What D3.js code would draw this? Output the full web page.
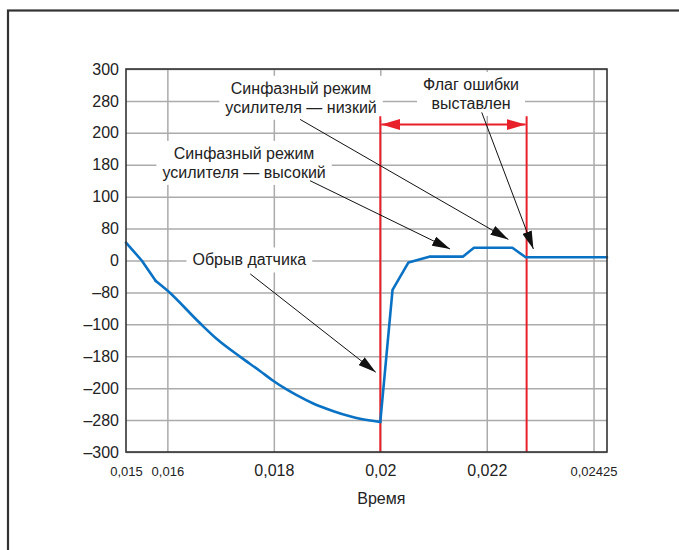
<!DOCTYPE html>
<html>
<head>
<meta charset="utf-8">
<script src="https://cdn.jsdelivr.net/npm/d3@7"></script>
<style>
body {margin:0; background:#fff;}
text {font-family: Arial, "Liberation Sans", sans-serif; fill:#222;}
</style>
</head>
<body>
<svg id="chart" width="679" height="550"></svg>
<script>
// данные кривой (время, сигнал)
var time = [0.015, 0.01538, 0.01572, 0.016, 0.01661, 0.01693, 0.01737, 0.01774, 0.01798, 0.01824,
	0.01843, 0.01874, 0.01912, 0.01943, 0.01962, 0.02, 0.02023, 0.02053, 0.02092, 0.02155,
	0.02176, 0.02254, 0.02282, 0.02453];
var signal = [28, 0, -32, -47, -98, -123, -151, -173, -188, -202,
	-211, -224, -236, -244, -248, -253, -46, -3, 6, 6,
	20, 20, 5, 5];
// участок плавной кривой (индексы)
var smoothFrom = 2, smoothTo = 15;

var yTicks = d3.range(-300, 301, 50);
var yTickLabels = ["\u2013300", "\u2013280", "\u2013200", "\u2013180", "\u2013100", "\u201380", "0",
	"80", "100", "180", "200", "280", "300"];
var xTicks = [0.015, 0.016, 0.018, 0.02, 0.022, 0.02425];
var xTickLabels = ["0,015", "0,016", "0,018", "0,02", "0,022", "0,02425"];
var xSmallLabels = ["0,015", "0,016", "0,02425"];
// ось времени нелинейная: точки излома
var xBreaks = [0.015, 0.016, 0.022, 0.02425, 0.02453];
var xBreakPos = [0, 0.086, 0.750, 0.972, 1];

var flagStart = 0.02, flagEnd = 0.02284, flagTop = 226, flagArrow = 213;

var notes = [
	{lines: ["Синфазный режим", "усилителя \u2014 низкий"], t: 0.018512, v: 270, from: [0.018494, 221], to: [0.022456, 33]},
	{lines: ["Синфазный режим", "усилителя \u2014 высокий"], t: 0.017441, v: 168, from: [0.018681, 125], to: [0.021311, 18]},
	{lines: ["Обрыв датчика"], t: 0.017539, v: 1, from: [0.017557, -21], to: [0.019915, -175]},
	{lines: ["Флаг ошибки", "выставлен"], t: 0.021705, v: 276, from: [0.021906, 232], to: [0.022983, 18]}
];

var svg = d3.select("#chart");
var margin = {left: 126, top: 69, right: 72, bottom: 98};
var W = 679 - margin.left - margin.right, H = 550 - margin.top - margin.bottom;

// рамка
svg.append("rect").attr("x", 8).attr("y", 10.5).attr("width", 720).attr("height", 600)
	.attr("fill", "none").attr("stroke", "#333").attr("stroke-width", 2.2);

var g = svg.append("g").attr("transform", "translate(" + margin.left + "," + margin.top + ")");

var x = d3.scaleLinear().domain(xBreaks).range(xBreakPos.map(function(p) {return p * W;}));
var y = d3.scaleLinear().domain([-300, 300]).range([H, 0]);

// сетка и подписи Y
var yAxis = g.append("g").call(d3.axisLeft(y).tickValues(yTicks).tickSize(-W).tickPadding(7)
	.tickFormat(function(d, i) {return yTickLabels[i];}));
yAxis.select(".domain").remove();
yAxis.selectAll("line").attr("stroke", "#ababab").attr("stroke-width", 1.5);
yAxis.selectAll("text").attr("font-size", 16).style("fill", "#222");

// сетка и подписи X
var xAxis = g.append("g").attr("transform", "translate(0," + H + ")")
	.call(d3.axisBottom(x).tickValues(xTicks).tickSize(-H)
	.tickFormat(function(d, i) {return xTickLabels[i];}));
xAxis.select(".domain").remove();
xAxis.selectAll("line").attr("stroke", function(d) {return d == 0.015 ? "none" : "#ababab";}).attr("stroke-width", 1.5);
xAxis.selectAll("text").attr("y", 24).attr("dy", 0).style("fill", "#222")
	.attr("font-size", function(d, i) {return xSmallLabels.indexOf(xTickLabels[i]) >= 0 ? 13 : 16;});

g.append("text").attr("x", x(0.0200) + 1).attr("y", H + 52).attr("text-anchor", "middle")
	.attr("font-size", 16).text("Время");

// маркеры стрелок
var defs = svg.append("defs");
defs.append("marker").attr("id", "blk").attr("viewBox", "0 0 18 10").attr("refX", 18).attr("refY", 5)
	.attr("markerWidth", 18).attr("markerHeight", 10).attr("markerUnits", "userSpaceOnUse").attr("orient", "auto")
	.append("path").attr("d", "M0,0L18,5L0,10z").attr("fill", "#111");
defs.append("marker").attr("id", "red").attr("viewBox", "0 0 19 11").attr("refX", 19).attr("refY", 5.5)
	.attr("markerWidth", 19).attr("markerHeight", 11).attr("markerUnits", "userSpaceOnUse").attr("orient", "auto-start-reverse")
	.append("path").attr("d", "M0,0L19,5.5L0,11z").attr("fill", "#e8202a");

// подложки подписей
var boxes = g.append("g");
var labels = g.append("g");
notes.forEach(function(n) {
	var t = labels.append("text").attr("text-anchor", "middle").attr("font-size", 16);
	n.lines.forEach(function(l, i) {
		t.append("tspan").attr("x", x(n.t)).attr("y", y(n.v) + i * 19).attr("dy", "0.35em").text(l);
	});
	var b = t.node().getBBox();
	boxes.append("rect").attr("x", b.x - 6).attr("y", b.y - 4).attr("width", b.width + 12).attr("height", b.height + 8)
		.attr("fill", "#fff");
});
labels.raise();

// красные линии флага
[flagStart, flagEnd].forEach(function(f) {
	g.append("line").attr("x1", x(f)).attr("x2", x(f)).attr("y1", y(flagTop)).attr("y2", H)
		.attr("stroke", "#e8202a").attr("stroke-width", 2);
});
g.append("line").attr("x1", x(flagStart) + 1).attr("x2", x(flagEnd) - 1).attr("y1", y(flagArrow)).attr("y2", y(flagArrow))
	.attr("stroke", "#e8202a").attr("stroke-width", 2)
	.attr("marker-start", "url(#red)").attr("marker-end", "url(#red)");

// кривая: ломаная + плавный участок спада
var pts = time.map(function(t, i) {return [t, signal[i]];});
var lineLin = d3.line().x(function(d) {return x(d[0]);}).y(function(d) {return y(d[1]);});
var lineSm = d3.line().curve(d3.curveMonotoneX).x(function(d) {return x(d[0]);}).y(function(d) {return y(d[1]);});
var pieces = [
	{d: pts.slice(0, smoothFrom + 1), fn: lineLin},
	{d: pts.slice(smoothFrom, smoothTo + 1), fn: lineSm},
	{d: pts.slice(smoothTo), fn: lineLin}
];
g.selectAll("path.curve").data(pieces).enter().append("path").attr("class", "curve")
	.attr("d", function(p) {return p.fn(p.d);})
	.attr("fill", "none").attr("stroke", "#0a72c4").attr("stroke-width", 2.6)
	.attr("stroke-linejoin", "round").attr("stroke-linecap", "round");

// выноски
notes.forEach(function(n) {
	g.append("line").attr("x1", x(n.from[0])).attr("y1", y(n.from[1]))
		.attr("x2", x(n.to[0])).attr("y2", y(n.to[1]))
		.attr("stroke", "#111").attr("stroke-width", 1).attr("marker-end", "url(#blk)");
});

// рамка области графика
g.append("rect").attr("width", W).attr("height", H).attr("fill", "none")
	.attr("stroke", "#333").attr("stroke-width", 1.6);
</script>
</body>
</html>
